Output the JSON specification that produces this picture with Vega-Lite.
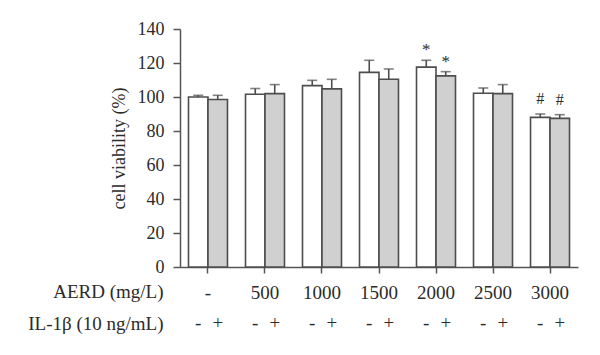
{
  "$schema": "https://vega.github.io/schema/vega-lite/v6.json",
  "autosize": "none",
  "width": 398,
  "height": 238,
  "padding": {"left": 180, "top": 29, "right": 22, "bottom": 88},
  "background": "white",
  "config": {
    "font": "Liberation Serif, serif",
    "view": {"stroke": null},
    "axis": {
      "grid": false,
      "domainColor": "#555555",
      "tickColor": "#555555",
      "domainWidth": 1.5,
      "tickWidth": 1.5,
      "labelColor": "#2b2b2b",
      "titleColor": "#2b2b2b",
      "labelFont": "Liberation Serif, serif",
      "titleFont": "Liberation Serif, serif",
      "titleFontWeight": "normal",
      "labelOverlap": false
    },
    "axisY": {
      "values": [0, 20, 40, 60, 80, 100, 120, 140],
      "labelFontSize": 18,
      "tickSize": 7,
      "labelPadding": 9,
      "titleFontSize": 18,
      "titlePadding": 9,
      "labelOverlap": false
    }
  },
  "data": {
    "values": [
      {"aerd": "-", "il": "-", "value": 100, "upper": 101},
      {"aerd": "-", "il": "+", "value": 98.5, "upper": 101},
      {"aerd": "500", "il": "-", "value": 101.6, "upper": 105},
      {"aerd": "500", "il": "+", "value": 102, "upper": 107.3},
      {"aerd": "1000", "il": "-", "value": 106.7, "upper": 109.8},
      {"aerd": "1000", "il": "+", "value": 104.8, "upper": 110.4},
      {"aerd": "1500", "il": "-", "value": 114.5, "upper": 121.6},
      {"aerd": "1500", "il": "+", "value": 110.4, "upper": 116.5},
      {"aerd": "2000", "il": "-", "value": 117.6, "upper": 121.6, "mark": "*"},
      {"aerd": "2000", "il": "+", "value": 112.4, "upper": 114.9, "mark": "*"},
      {"aerd": "2500", "il": "-", "value": 102.2, "upper": 105.3},
      {"aerd": "2500", "il": "+", "value": 102, "upper": 107.3},
      {"aerd": "3000", "il": "-", "value": 88, "upper": 90, "mark": "#"},
      {"aerd": "3000", "il": "+", "value": 87.4, "upper": 89.6, "mark": "#"}
    ]
  },
  "encoding": {
    "x": {
      "field": "aerd",
      "type": "nominal",
      "sort": ["-", "500", "1000", "1500", "2000", "2500", "3000"],
      "scale": {"paddingInner": 0.316, "paddingOuter": 0.149},
      "axis": {
        "labelAngle": 0,
        "labelFontSize": 19,
        "labelPadding": 10,
        "tickSize": 6,
        "title": ["AERD (mg/L)", "IL-1β (10 ng/mL)"],
        "titleFontSize": 19,
        "titleAlign": "right",
        "titleBaseline": "alphabetic",
        "titleAngle": 0,
        "titleX": -17,
        "titleY": 30,
        "titleLineHeight": 32
      }
    },
    "xOffset": {"field": "il", "type": "nominal", "sort": ["-", "+"], "scale": {"paddingInner": 0, "paddingOuter": 0}}
  },
  "layer": [
    {
      "mark": {"type": "bar", "stroke": "#4d4d4d", "strokeWidth": 1.6},
      "encoding": {
        "y": {
          "field": "value",
          "type": "quantitative",
          "scale": {"domain": [0, 140], "nice": false, "zero": true},
          "axis": {"title": "cell viability (%)", "values": [0, 20, 40, 60, 80, 100, 120, 140], "labelOverlap": false}
        },
        "fill": {
          "field": "il",
          "type": "nominal",
          "scale": {"domain": ["-", "+"], "range": ["#ffffff", "#d0d0d0"]},
          "legend": null
        }
      }
    },
    {
      "mark": {"type": "rule", "color": "#4d4d4d", "strokeWidth": 1.6},
      "encoding": {
        "y": {"field": "value", "type": "quantitative", "axis": {"title": "cell viability (%)", "values": [0, 20, 40, 60, 80, 100, 120, 140], "labelOverlap": false}},
        "y2": {"field": "upper"}
      }
    },
    {
      "mark": {"type": "tick", "color": "#4d4d4d", "size": 10, "thickness": 1.6, "orient": "horizontal"},
      "encoding": {
        "y": {"field": "upper", "type": "quantitative", "axis": {"title": "cell viability (%)", "values": [0, 20, 40, 60, 80, 100, 120, 140], "labelOverlap": false}}
      }
    },
    {
      "transform": [{"filter": "datum.mark == '*'"}],
      "mark": {"type": "text", "fontSize": 17, "baseline": "alphabetic", "dy": -5, "fill": "#2b2b2b"},
      "encoding": {
        "y": {"field": "upper", "type": "quantitative", "axis": {"title": "cell viability (%)", "values": [0, 20, 40, 60, 80, 100, 120, 140], "labelOverlap": false}},
        "text": {"field": "mark"}
      }
    },
    {
      "transform": [{"filter": "datum.mark == '#'"}],
      "mark": {"type": "text", "fontSize": 16, "baseline": "alphabetic", "dy": -10, "fill": "#2b2b2b"},
      "encoding": {
        "y": {"field": "upper", "type": "quantitative", "axis": {"title": "cell viability (%)", "values": [0, 20, 40, 60, 80, 100, 120, 140], "labelOverlap": false}},
        "text": {"field": "mark"}
      }
    },
    {
      "mark": {"type": "text", "fontSize": 19, "baseline": "alphabetic", "fill": "#2b2b2b"},
      "encoding": {
        "y": {"datum": -36.5, "type": "quantitative", "scale": {"domain": [0, 140], "nice": false, "zero": true}, "axis": {"title": "cell viability (%)", "values": [0, 20, 40, 60, 80, 100, 120, 140], "labelOverlap": false}},
        "text": {"field": "il"}
      }
    }
  ]
}
